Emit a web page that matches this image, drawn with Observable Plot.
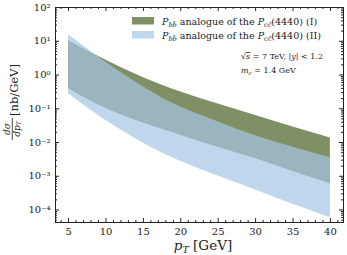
<!DOCTYPE html>
<html><head><meta charset="utf-8">
<script src="https://cdn.jsdelivr.net/npm/d3@7"></script>
<script src="https://cdn.jsdelivr.net/npm/@observablehq/plot@0.6"></script>
<style>body{margin:0;background:#fff} svg{display:block}</style>
</head><body><div id="chart"></div>
<script>
// ---- data ----
const pT = [5, 7.5, 10, 12.5, 15, 17.5, 20, 25, 30, 35, 40];
const bandIUpper  = [10.5, 5.25, 2.75, 1.48, 0.83, 0.50, 0.316, 0.138, 0.063, 0.0288, 0.0135];
const bandILower  = [0.389, 0.19, 0.102, 0.060, 0.038, 0.0245, 0.0162, 0.00724, 0.00331, 0.00138, 0.000596];
const bandIIUpper = [15.5, 6.0, 2.35, 1.0, 0.44, 0.21, 0.112, 0.0407, 0.0158, 0.00724, 0.00355];
const bandIILower = [0.277, 0.107, 0.0447, 0.02, 0.0095, 0.0049, 0.00275, 0.00102, 0.00039, 0.000148, 0.0000589];
const xTicks = [5, 10, 15, 20, 25, 30, 35, 40];
const xTickLabels = ["5", "10", "15", "20", "25", "30", "35", "40"];
const yTicks = [1e-4, 1e-3, 1e-2, 1e-1, 1e0, 1e1, 1e2];
const yTickLabels = ["10⁻⁴", "10⁻³", "10⁻²", "10⁻¹", "10⁰", "10¹", "10²"];
const xDomain = [3.25, 41.75];
const yDomain = [Math.pow(10, -4.37), 100];

const greenColor = "#7f9164";
const blueColor = "#a5c4e4";
const blueOpacity = 0.7;

// minor ticks
const xMinor = d3.range(4, 42).filter(v => v % 5 !== 0);
const yMinor = [];
for (let e = -5; e <= 1; e++) for (let k = 2; k <= 9; k++) {
  const v = k * Math.pow(10, e);
  if (v > yDomain[0] && v < yDomain[1]) yMinor.push(v);
}

const bandI = pT.map((x, i) => ({x, lo: bandILower[i], hi: bandIUpper[i]}));
const bandII = pT.map((x, i) => ({x, lo: bandIILower[i], hi: bandIIUpper[i]}));

const W = 347, H = 255, mL = 55, mR = 4, mT = 7, mB = 33;
const fw = W - mL - mR, fh = H - mT - mB;

const chart = Plot.plot({
  width: W, height: H,
  marginLeft: mL, marginRight: mR, marginTop: mT, marginBottom: mB,
  style: {fontFamily: "DejaVu Serif", fontSize: "10px", color: "#222", background: "#fff"},
  x: {domain: xDomain, label: null},
  y: {type: "log", domain: yDomain, label: null},
  marks: [
    Plot.areaY(bandI, {x: "x", y1: "lo", y2: "hi", fill: greenColor, curve: "monotone-x"}),
    Plot.areaY(bandII, {x: "x", y1: "lo", y2: "hi", fill: blueColor, fillOpacity: blueOpacity, curve: "monotone-x"}),
    // inward ticks on all four sides
    Plot.tickX(xTicks, {x: d => d, insetTop: fh - 4, stroke: "#222"}),
    Plot.tickX(xTicks, {x: d => d, insetBottom: fh - 4, stroke: "#222"}),
    Plot.tickX(xMinor, {x: d => d, insetTop: fh - 2, stroke: "#222"}),
    Plot.tickX(xMinor, {x: d => d, insetBottom: fh - 2, stroke: "#222"}),
    Plot.tickY(yTicks, {y: d => d, insetRight: fw - 4, stroke: "#222"}),
    Plot.tickY(yTicks, {y: d => d, insetLeft: fw - 4, stroke: "#222"}),
    Plot.tickY(yMinor, {y: d => d, insetRight: fw - 2, stroke: "#222"}),
    Plot.tickY(yMinor, {y: d => d, insetLeft: fw - 2, stroke: "#222"}),
    Plot.axisX(xTicks, {tickSize: 0, tickPadding: 5, tickFormat: d => xTickLabels[xTicks.indexOf(d)], label: null, fontSize: 10}),
    Plot.axisY(yTicks, {tickSize: 0, tickPadding: 5, tickFormat: d => yTickLabels[yTicks.indexOf(d)], label: null, fontSize: 10}),
    Plot.frame({stroke: "#222", strokeWidth: 1})
  ]
});
document.getElementById("chart").appendChild(chart);

const svg = d3.select(chart);
const serif = "DejaVu Serif";

// legend
const legendRows = [
  {fill: greenColor, op: 1, tag: "(I)"},
  {fill: blueColor, op: blueOpacity, tag: "(II)"}
];
legendRows.forEach((r, i) => {
  const y0 = 24.5 + i * 14;
  svg.append("rect").attr("x", 132).attr("y", y0 - 7.5).attr("width", 22).attr("height", 7.5)
    .attr("fill", r.fill).attr("fill-opacity", r.op);
  const t = svg.append("text").attr("x", 162).attr("y", y0).attr("text-anchor", "start")
    .attr("font-family", serif).attr("font-size", 9.5).attr("fill", "#222");
  t.append("tspan").attr("font-style", "italic").text("P");
  t.append("tspan").attr("font-style", "italic").attr("font-size", 6.5).attr("dy", 2.5).text("bb\u0304");
  t.append("tspan").attr("dy", -2.5).text(" analogue of the ");
  t.append("tspan").attr("font-style", "italic").text("P");
  t.append("tspan").attr("font-style", "italic").attr("font-size", 6.5).attr("dy", 2.5).text("cc\u0304");
  t.append("tspan").attr("dy", -2.5).text("(4440) " + r.tag);
});

// annotation
const a1 = svg.append("text").attr("x", 241).attr("y", 59).attr("text-anchor", "start").attr("font-family", serif).attr("font-size", 8).attr("fill", "#222");
a1.append("tspan").text("√");
a1.append("tspan").attr("font-style", "italic").attr("text-decoration", "overline").text("s");
a1.append("tspan").text(" = 7 TeV, |");
a1.append("tspan").attr("font-style", "italic").text("y");
a1.append("tspan").text("| < 1.2");
const a2 = svg.append("text").attr("x", 241).attr("y", 73).attr("text-anchor", "start").attr("font-family", serif).attr("font-size", 8).attr("fill", "#222");
a2.append("tspan").attr("font-style", "italic").text("m");
a2.append("tspan").attr("font-style", "italic").attr("font-size", 5.6).attr("dy", 1.8).text("c");
a2.append("tspan").attr("dy", -1.8).text(" = 1.4 GeV");

// x label
const xl = svg.append("text").attr("x", 203).attr("y", 249.5).attr("text-anchor", "middle")
  .attr("font-family", serif).attr("font-size", 13.5).attr("fill", "#222");
xl.append("tspan").attr("font-style", "italic").text("p");
xl.append("tspan").attr("font-style", "italic").attr("font-size", 9.5).attr("dy", 3).text("T");
xl.append("tspan").attr("dy", -3).text(" [GeV]");

// y label (rotated): fraction dσ/dp_T then [nb/GeV]
const g = svg.append("g").attr("transform", "rotate(-90)");
g.append("text").attr("x", -129).attr("y", 10).attr("text-anchor", "middle")
  .attr("font-family", serif).attr("font-style", "italic").attr("font-size", 9).attr("fill", "#222").text("dσ");
g.append("line").attr("x1", -140).attr("x2", -118).attr("y1", 12.3).attr("y2", 12.3).attr("stroke", "#222").attr("stroke-width", 0.8);
const den = g.append("text").attr("x", -129).attr("y", 19.5).attr("text-anchor", "middle")
  .attr("font-family", serif).attr("font-style", "italic").attr("font-size", 9).attr("fill", "#222");
den.append("tspan").text("dp");
den.append("tspan").attr("font-size", 6.3).attr("dy", 1.6).text("T");
g.append("text").attr("x", -116).attr("y", 17.5).attr("text-anchor", "start")
  .attr("font-family", serif).attr("font-size", 11.5).attr("fill", "#222").text("[nb/GeV]");
</script>
</body></html>
